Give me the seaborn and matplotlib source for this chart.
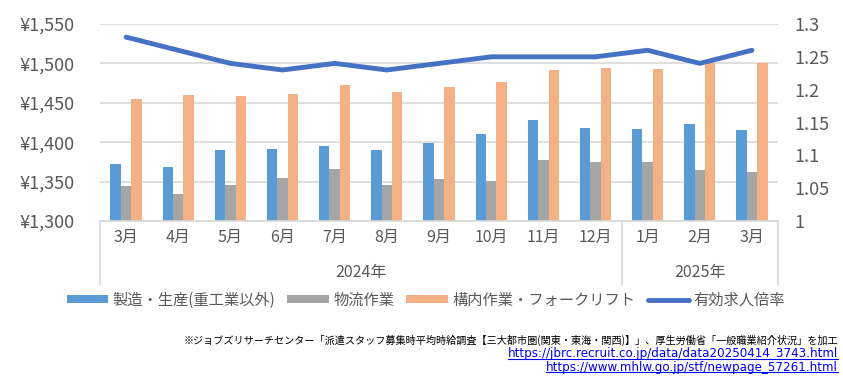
import numpy as np
import pandas as pd
import matplotlib
matplotlib.use("Agg")
import matplotlib.pyplot as plt
import seaborn as sns
from matplotlib.patches import Patch
from matplotlib.lines import Line2D
from matplotlib.ticker import FuncFormatter, MultipleLocator

# ---- data ----
keys = ["2024-03", "2024-04", "2024-05", "2024-06", "2024-07", "2024-08", "2024-09",
        "2024-10", "2024-11", "2024-12", "2025-01", "2025-02", "2025-03"]
month_labels = ["3月", "4月", "5月", "6月", "7月", "8月", "9月", "10月", "11月", "12月",
                "1月", "2月", "3月"]
year_labels = ["2024年", "2025年"]
year_counts = [10, 3]

series_names = ["製造・生産(重工業以外)", "物流作業", "構内作業・フォークリフト"]
manufacturing = [1372, 1368, 1390, 1391, 1395, 1390, 1399, 1410, 1428, 1418, 1417, 1423, 1415]
logistics = [1344, 1334, 1346, 1355, 1366, 1346, 1353, 1351, 1377, 1375, 1375, 1365, 1362]
forklift = [1455, 1460, 1459, 1461, 1472, 1464, 1470, 1476, 1492, 1494, 1493, 1500, 1500]
line_name = "有効求人倍率"
job_ratio = [1.28, 1.26, 1.24, 1.23, 1.24, 1.23, 1.24, 1.25, 1.25, 1.25, 1.26, 1.24, 1.26]

source_text = "※ジョブズリサーチセンター「派遣スタッフ募集時平均時給調査【三大都市圏(関東・東海・関西)】」、厚生労働省「一般職業紹介状況」を加工"
urls = ["https://jbrc.recruit.co.jp/data/data20250414_3743.html",
        "https://www.mhlw.go.jp/stf/newpage_57261.html"]

colors = ["#5B9BD5", "#A5A5A5", "#F4B183"]
line_color = "#4472C4"
text_color = "#595959"
grid_color = "#D9D9D9"

# ---- style ----
sns.set_theme(style="white")
plt.rcParams["font.family"] = ["Noto Sans CJK JP", "DejaVu Sans"]

df = pd.DataFrame({
    "key": keys * 3,
    "series": [series_names[0]] * 13 + [series_names[1]] * 13 + [series_names[2]] * 13,
    "value": manufacturing + logistics + forklift,
})

fig = plt.figure(figsize=(8.43, 3.81), dpi=100)
ax = fig.add_axes([100 / 843, 1 - 221 / 381, (778 - 100) / 843, (221 - 24) / 381])

sns.barplot(data=df, x="key", y="value", hue="series", order=keys, hue_order=series_names,
            palette=colors, saturation=1, width=0.6, linewidth=0, ax=ax, legend=False,
            zorder=2)

ax.set_ylim(1300, 1550)
ax.set_xlim(-0.5, len(keys) - 0.5)
ax.yaxis.set_major_locator(MultipleLocator(50))
ax.yaxis.set_major_formatter(FuncFormatter(lambda v, p: f"¥{int(round(v)):,}"))
ax.grid(axis="y", color=grid_color, lw=1.2, zorder=0)
ax.set_axisbelow(True)
ax.set_xlabel("")
ax.set_ylabel("")
ax.set_xticks(range(len(keys)))
ax.set_xticklabels(month_labels)
ax.tick_params(axis="x", length=0, pad=6, labelsize=11.5, labelcolor=text_color)
ax.tick_params(axis="y", length=0, pad=18, labelsize=13, labelcolor=text_color)
for s in ["top", "right", "left"]:
    ax.spines[s].set_visible(False)
ax.spines["bottom"].set_color(grid_color)
ax.spines["bottom"].set_linewidth(1.2)

ax2 = ax.twinx()
sns.lineplot(x=np.arange(len(keys)), y=job_ratio, ax=ax2, color=line_color, lw=3.5,
             zorder=3)
ax2.set_ylim(1.0, 1.3)
ax2.yaxis.set_major_locator(MultipleLocator(0.05))
ax2.yaxis.set_major_formatter(FuncFormatter(lambda v, p: f"{round(v, 2):g}"))
ax2.tick_params(axis="y", length=0, pad=12, labelsize=13, labelcolor=text_color)
for s in ["top", "right", "left", "bottom"]:
    ax2.spines[s].set_visible(False)
ax2.set_xlim(-0.5, len(keys) - 0.5)

# group separators and year labels
trans = ax.get_xaxis_transform()
sep_bottom = -(285 - 221) / 197
bounds = [-0.5]
for c in year_counts:
    bounds.append(bounds[-1] + c)
for b in bounds:
    ax.plot([b, b], [0, sep_bottom], transform=trans, color=grid_color, lw=1.2, clip_on=False)
for i, yl in enumerate(year_labels):
    cx = (bounds[i] + bounds[i + 1]) / 2
    ax.text(cx, -(272 - 221) / 197, yl, transform=trans, ha="center", va="center",
            fontsize=11.5, color=text_color)

# legend
handles = [Patch(facecolor=c, edgecolor="none") for c in colors]
handles.append(Line2D([0], [0], color=line_color, lw=3.5))
fig.legend(handles, series_names + [line_name], loc="center", bbox_to_anchor=(0.505, 1 - 300 / 381),
           ncol=4, frameon=False, fontsize=11, handlelength=2.7, handleheight=0.5,
           handletextpad=0.3, columnspacing=0.8, labelcolor=text_color)

# source text
fig.text(838 / 843, 1 - 340 / 381, source_text, ha="right", va="center", fontsize=7.3,
         color="black")
url_texts = []
for i, u in enumerate(urls):
    t = fig.text(838 / 843, 1 - (354 + 13 * i) / 381, u, ha="right", va="center",
                 fontsize=8.6, color="#0000FF", family=["DejaVu Sans"])
    url_texts.append(t)

fig.canvas.draw()
r = fig.canvas.get_renderer()
inv = fig.transFigure.inverted()
for t in url_texts:
    bb = t.get_window_extent(renderer=r)
    (x0, y0), (x1, y1) = inv.transform([[bb.x0, bb.y0 + 1.5], [bb.x1, bb.y1]])
    fig.add_artist(Line2D([x0, x1], [y0, y0], transform=fig.transFigure, color="#0000FF", lw=0.8))

fig.savefig("out.png", dpi=100)
